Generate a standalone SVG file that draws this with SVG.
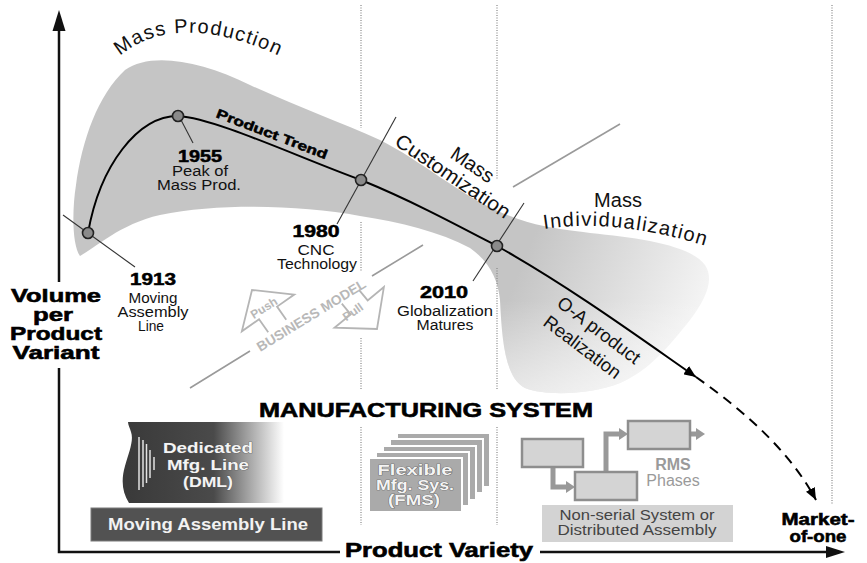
<svg xmlns="http://www.w3.org/2000/svg" width="867" height="563" viewBox="0 0 867 563">
<defs>
<style>
text{font-family:"Liberation Sans",Arial,sans-serif}
.h{font-weight:bold;fill:#000;stroke:#000;stroke-width:0.6}
.lab{font-size:14px;fill:#111;text-anchor:middle}
.yr{font-size:16px;font-weight:bold;fill:#000;stroke:#000;stroke-width:0.5;text-anchor:middle}
.bandt{font-size:20px;fill:#111}
.dot{fill:#8a8a8a;stroke:#222;stroke-width:1.6}
.tick{stroke:#333;stroke-width:1.1;fill:none}
.vdot{stroke:#888;stroke-width:1.2;stroke-dasharray:1 1.5;fill:none}
.sep{stroke:#9a9a9a;stroke-width:1.6;fill:none}
.bm{fill:none;stroke:#b5b5b5;stroke-width:1.8}
.bmt{font-weight:bold;fill:#b8b8b8;text-anchor:middle}
.rms{fill:#d4d4d4;stroke:#8e8e8e;stroke-width:2.5}
.conn{fill:none;stroke:#999;stroke-width:5}
.fms{fill:#aaaaaa;stroke:#ffffff;stroke-width:2}
.wt{font-weight:bold;fill:#f4f4f4;stroke:#555;stroke-width:0.7;paint-order:stroke;text-anchor:middle}
.axis{stroke:#111;stroke-width:2.5;fill:none}
</style>
<linearGradient id="bandG" gradientUnits="userSpaceOnUse" x1="530" y1="245" x2="712" y2="320">
<stop offset="0" stop-color="#c5c5c5"/>
<stop offset="1" stop-color="#f8f8f8"/>
</linearGradient>
<linearGradient id="tongueG" gradientUnits="userSpaceOnUse" x1="0" y1="300" x2="0" y2="396">
<stop offset="0" stop-color="#ffffff" stop-opacity="0"/>
<stop offset="1" stop-color="#ffffff" stop-opacity="0.55"/>
</linearGradient>
<linearGradient id="dmlG" gradientUnits="userSpaceOnUse" x1="128" y1="0" x2="284" y2="0">
<stop offset="0" stop-color="#3a3a3a"/>
<stop offset="0.55" stop-color="#4a4a4a"/>
<stop offset="1" stop-color="#ffffff"/>
</linearGradient>
<marker id="ah" viewBox="0 0 12 10" refX="12" refY="5" markerWidth="12" markerHeight="10" markerUnits="userSpaceOnUse" orient="auto">
<path d="M0,0 L12,5 L0,10 z" fill="#000"/>
</marker>
<path id="bandShape" d="M 80,256 C 72,245 72,210 76,185 C 82,140 98,95 125,70 C 150,52 200,60 250,85 C 300,108 340,122 380,140 C 420,160 460,195 500,212 C 530,225 550,228 590,233 C 640,238 690,245 705,265 C 715,280 705,300 690,320 C 670,345 650,370 620,383 C 590,395 545,396 525,388 C 505,378 502,340 500,300 C 498,280 490,262 470,248 C 440,232 400,222 360,216 C 300,205 220,203 160,215 C 120,224 95,248 80,256 Z"/>
<path id="mpPath" d="M 120,56 C 150,30 205,18 292,62"/>
<path id="miPath" d="M 544,229 Q 615,218 706,246"/>
</defs>
<rect width="867" height="563" fill="#fff"/>

<g id="band">
<use href="#bandShape" fill="url(#bandG)"/>
<use href="#bandShape" fill="url(#tongueG)"/>
</g>

<g id="grid">
<path class="vdot" d="M361,5 V128 M361,222 V272 M361,338 V390 M361,427 V525"/>
<path class="vdot" d="M497,5 V180 M497,268 V390 M497,427 V525"/>
<path class="vdot" d="M832,5 V505"/>
<path class="sep" d="M513,187 L620,124"/>
</g>

<g id="connectors">
<path class="tick" d="M63,215 L135,267"/>
<path class="tick" d="M180,118 L193,143"/>
<path class="tick" d="M396,117 L337,224"/>
<path class="tick" d="M524,203 L473,281"/>
<path d="M 88,233 C 100,165 138,116 178,116 C 215,118 300,158 361,180 C 410,200 455,224 497,246 C 570,287 640,338 696,377" fill="none" stroke="#000" stroke-width="2" marker-end="url(#ah)"/>
<path d="M 696,377 C 750,415 792,455 816,500" fill="none" stroke="#000" stroke-width="2" stroke-dasharray="10 7" marker-end="url(#ah)"/>
<path class="conn" d="M553,467 V487 H567"/>
<path class="conn" d="M606,472 V434 H620"/>
<path class="conn" d="M690,434 H697"/>
<polygon points="566,481 575,487 566,493" fill="#999"/>
<polygon points="619,428 628,434 619,440" fill="#999"/>
<polygon points="696,428 705,434 696,440" fill="#999"/>
</g>

<g id="dots">
<circle class="dot" cx="88" cy="233" r="5.5"/>
<circle class="dot" cx="178" cy="116" r="5.5"/>
<circle class="dot" cx="361" cy="180" r="5.5"/>
<circle class="dot" cx="497" cy="246" r="5.5"/>
</g>

<g id="phase-labels">
<text class="bandt" font-size="21" letter-spacing="1.3"><textPath href="#mpPath">Mass Production</textPath></text>
<text transform="translate(272,134) rotate(21)" y="4.5" text-anchor="middle" font-size="13" font-weight="bold" stroke="#000" stroke-width="0.5" textLength="118" lengthAdjust="spacingAndGlyphs">Product Trend</text>
<g transform="translate(453,176) rotate(34)">
<text class="bandt" text-anchor="middle" y="7" textLength="134" lengthAdjust="spacingAndGlyphs">Customization</text>
<text class="bandt" text-anchor="middle" x="10" y="-13.5">Mass</text>
</g>
<text class="bandt" font-size="19" x="618" y="207" text-anchor="middle">Mass</text>
<text class="bandt" font-size="19" letter-spacing="1.3"><textPath href="#miPath">Individualization</textPath></text>
<g transform="translate(599,330) rotate(37)">
<text font-size="18.5" fill="#111" text-anchor="middle" y="6.5">O-A product</text>
<text font-size="18.5" fill="#111" text-anchor="middle" x="-3" y="30">Realization</text>
</g>
</g>

<g id="milestone-1913">
<text class="yr" x="153" y="285" textLength="46" lengthAdjust="spacingAndGlyphs">1913</text>
<text class="lab" x="153" y="303" textLength="49" lengthAdjust="spacingAndGlyphs">Moving</text>
<text class="lab" x="153" y="317" textLength="71" lengthAdjust="spacingAndGlyphs">Assembly</text>
<text class="lab" x="151" y="331" textLength="26" lengthAdjust="spacingAndGlyphs">Line</text>
</g>
<g id="milestone-1955">
<text class="yr" x="200" y="162" textLength="44" lengthAdjust="spacingAndGlyphs">1955</text>
<text class="lab" x="200" y="176" textLength="56" lengthAdjust="spacingAndGlyphs">Peak of</text>
<text class="lab" x="199" y="190" textLength="84" lengthAdjust="spacingAndGlyphs">Mass Prod.</text>
</g>
<g id="milestone-1980">
<text class="yr" x="316" y="237" textLength="47" lengthAdjust="spacingAndGlyphs">1980</text>
<text class="lab" x="316" y="255" textLength="37" lengthAdjust="spacingAndGlyphs">CNC</text>
<text class="lab" x="317" y="269" textLength="80" lengthAdjust="spacingAndGlyphs">Technology</text>
</g>
<g id="milestone-2010">
<text class="yr" x="444" y="298" textLength="48" lengthAdjust="spacingAndGlyphs">2010</text>
<text class="lab" x="445" y="316" textLength="96" lengthAdjust="spacingAndGlyphs">Globalization</text>
<text class="lab" x="445" y="330" textLength="57" lengthAdjust="spacingAndGlyphs">Matures</text>
</g>

<g id="business-model">
<path class="sep" d="M190,388 L250,351 M372,276 L423,245"/>
<g transform="translate(252,290) rotate(-35)"><polyline class="bm" points="-11,44 -11,28 -32,28 0,0 32,28 11,28 11,44"/></g>
<g transform="translate(377,329) rotate(140.5)"><polyline class="bm" points="-11,42 -11,28 -32,28 0,0 32,28 11,28 11,42"/></g>
<text class="bmt" font-size="12" transform="translate(264,308) rotate(-32)" y="4">Push</text>
<text class="bmt" font-size="12" transform="translate(353,312) rotate(-35)" y="4">Pull</text>
<text class="bmt" font-size="13.5" transform="translate(311,315) rotate(-31.5)" y="5" textLength="125" lengthAdjust="spacingAndGlyphs">BUSINESS MODEL</text>
</g>

<g id="mfg-title">
<text class="h" x="259" y="417" font-size="21" textLength="334" lengthAdjust="spacingAndGlyphs">MANUFACTURING SYSTEM</text>
</g>

<g id="dml">
<path d="M128,422 L284,422 L284,503 L129,503 C122,492 121,480 125,466 C129,452 134,440 131,432 C130,428 128,425 128,422 Z" fill="url(#dmlG)"/>
<g stroke="#fff" stroke-width="1.5" opacity="0.85">
<line x1="139" y1="437" x2="139" y2="490"/>
<line x1="143" y1="440" x2="143" y2="487"/>
<line x1="146.5" y1="444" x2="146.5" y2="483"/>
<line x1="150" y1="450" x2="150" y2="478"/>
<line x1="154" y1="457" x2="154" y2="470"/>
</g>
<text class="wt" font-size="15" x="208" y="453" textLength="90" lengthAdjust="spacingAndGlyphs">Dedicated</text>
<text class="wt" font-size="15" x="208" y="470" textLength="82" lengthAdjust="spacingAndGlyphs">Mfg. Line</text>
<text class="wt" font-size="15" x="208" y="487" textLength="50" lengthAdjust="spacingAndGlyphs">(DML)</text>
</g>

<g id="moving-assembly-line">
<rect x="91" y="508" width="231" height="33" fill="#525252" stroke="#7a7a7a" stroke-width="1"/>
<text x="208" y="530" font-size="17" font-weight="bold" fill="#f2f2f2" text-anchor="middle" textLength="200" lengthAdjust="spacingAndGlyphs">Moving Assembly Line</text>
</g>

<g id="fms">
<rect class="fms" x="397" y="433" width="93" height="54"/>
<rect class="fms" x="390" y="439" width="93" height="54"/>
<rect class="fms" x="383" y="446" width="93" height="54"/>
<rect class="fms" x="376" y="452" width="93" height="54"/>
<rect class="fms" x="369" y="458" width="93" height="54"/>
<text class="wt" font-size="14" x="415" y="475" textLength="75" lengthAdjust="spacingAndGlyphs">Flexible</text>
<text class="wt" font-size="14" x="415" y="490" textLength="78" lengthAdjust="spacingAndGlyphs">Mfg. Sys.</text>
<text class="wt" font-size="14" x="414" y="505" textLength="52" lengthAdjust="spacingAndGlyphs">(FMS)</text>
</g>

<g id="rms">
<rect class="rms" x="522" y="439" width="61" height="28"/>
<rect class="rms" x="575" y="472" width="62" height="28"/>
<rect class="rms" x="628" y="421" width="62" height="28"/>
<text x="673" y="470" font-size="16" font-weight="bold" fill="#9a9a9a" text-anchor="middle">RMS</text>
<text x="673" y="486" font-size="16" fill="#9a9a9a" text-anchor="middle">Phases</text>
</g>

<g id="non-serial">
<rect x="542" y="505" width="191" height="37" fill="#d3d3d3"/>
<text x="637" y="520" font-size="14.5" fill="#444" text-anchor="middle" textLength="155" lengthAdjust="spacingAndGlyphs">Non-serial System or</text>
<text x="637" y="535" font-size="14.5" fill="#444" text-anchor="middle" textLength="159" lengthAdjust="spacingAndGlyphs">Distributed Assembly</text>
</g>

<g id="axes">
<path class="axis" d="M59,28 V282 M59,368 V552 H340 M540,552 H830"/>
<polygon points="59,10 52.5,31 65.5,31" fill="#111"/>
<polygon points="845,552 826,546 826,558" fill="#111"/>
<g class="h" font-size="19" text-anchor="middle">
<text x="56" y="302" textLength="90" lengthAdjust="spacingAndGlyphs">Volume</text>
<text x="53" y="321" textLength="40" lengthAdjust="spacingAndGlyphs">per</text>
<text x="56" y="340" textLength="92" lengthAdjust="spacingAndGlyphs">Product</text>
<text x="56" y="359" textLength="87" lengthAdjust="spacingAndGlyphs">Variant</text>
</g>
<text class="h" x="345" y="557" font-size="20" textLength="188" lengthAdjust="spacingAndGlyphs">Product Variety</text>
<g class="h" font-size="17" text-anchor="middle">
<text x="818" y="525" textLength="73" lengthAdjust="spacingAndGlyphs">Market-</text>
<text x="818" y="542" textLength="57" lengthAdjust="spacingAndGlyphs">of-one</text>
</g>
</g>
</svg>
